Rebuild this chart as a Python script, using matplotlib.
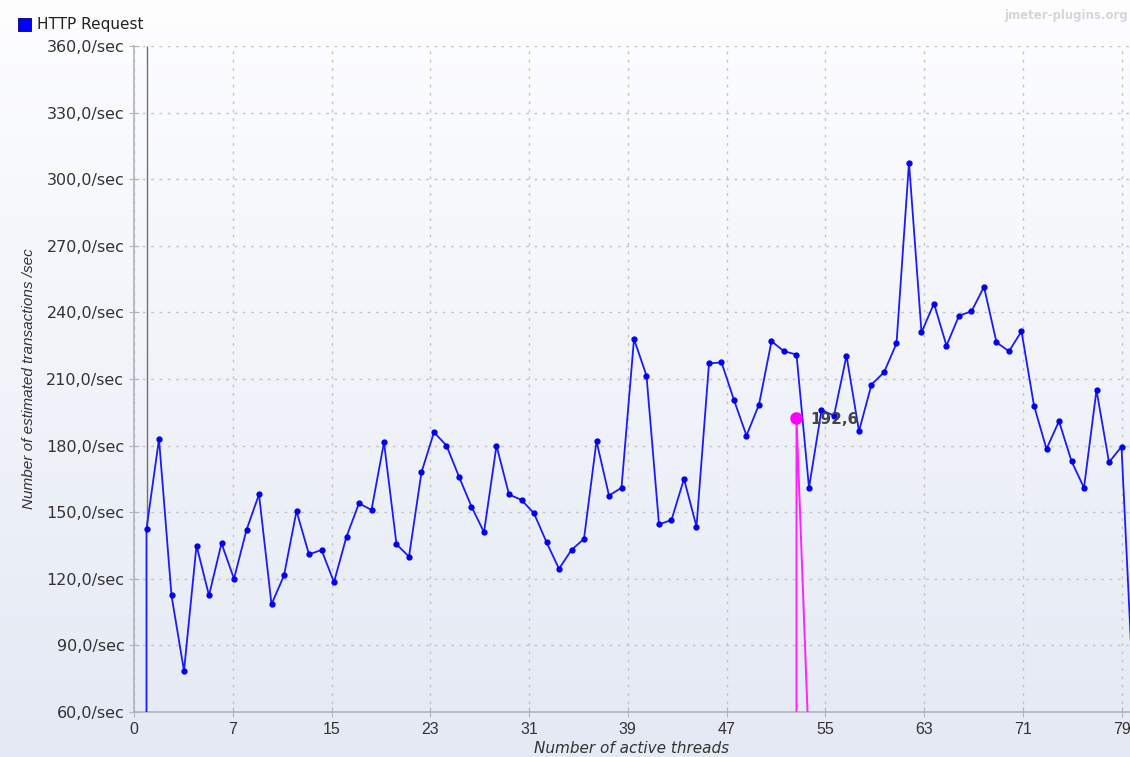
import numpy as np
import matplotlib.pyplot as plt
from matplotlib.patches import Rectangle

# Dữ liệu
threads = [1, 1, 2, 3, 4, 5, 6, 7, 8, 9, 10, 11, 12, 13, 14, 15, 16, 17, 18, 19, 20,
           21, 22, 23, 24, 25, 26, 27, 28, 29, 30, 31, 32, 33, 34, 35, 36, 37, 38, 39, 40,
           41, 42, 43, 44, 45, 46, 47, 48, 49, 50, 51, 52, 53, 54, 55, 56, 57, 58, 59, 60,
           61, 62, 63, 64, 65, 66, 67, 68, 69, 70, 71, 72, 73, 74, 75, 76, 77, 78, 79, 80]
tps = [20, 142.5, 183, 112.5, 78.5, 135, 112.5, 136, 120, 142, 158,
       108.5, 121.5, 150.5, 131, 133, 118.5, 139, 154, 151, 181.5,
       135.5, 130, 168, 186, 180, 166, 152.5, 141, 180, 158,
       155.5, 149.5, 136.5, 124.5, 133, 138, 182, 157.5, 161, 228,
       211.5, 144.5, 146.5, 165, 143.5, 217, 217.5, 200.5, 184.5, 198.5,
       227, 222.5, 221, 161, 196, 193.5, 220.5, 186.5, 207.5, 213,
       226, 307.5, 231, 244, 225, 238.5, 240.5, 251.5, 226.5, 222.5,
       231.5, 198, 178.5, 191, 173, 161, 205, 172.5, 179.5, 62]

# Đường đánh dấu màu hồng (con trỏ)
cursor_x = [53, 53, 54]
cursor_y = [10, 192.6, 42]
cursor_label = "192,6"

xtick_labels = ['0', '7', '15', '23', '31', '39', '47', '55', '63', '71', '79']
ytick_values = [60, 90, 120, 150, 180, 210, 240, 270, 300, 330, 360]
ytick_labels = [f"{v},0/sec" for v in ytick_values]

fig = plt.figure(figsize=(11.3, 7.57), dpi=100)

# Nền gradient cho toàn bộ hình
bg = fig.add_axes([0, 0, 1, 1], zorder=-10)
grad = np.linspace(0, 1, 256).reshape(-1, 1)
top = np.array([0.995, 0.995, 1.0])
bottom = np.array([0.894, 0.914, 0.957])
img = top + (bottom - top) * grad[:, :, None]
bg.imshow(img, aspect='auto', extent=[0, 1, 0, 1])
bg.set_axis_off()

ax = fig.add_axes([134 / 1130, 1 - 712 / 757, 996 / 1130, 666 / 757])
ax.set_facecolor('none')

grid_kw = dict(color='#c4c4c8', linewidth=1.0, linestyle=(0, (2, 4)))
xticks = np.linspace(0, 79, 11)
ax.set_xlim(0, 79.68)
ax.set_ylim(60, 360)
ax.set_xticks(xticks)
ax.set_xticklabels(xtick_labels)
ax.set_yticks(ytick_values)
ax.set_yticklabels(ytick_labels)
ax.grid(True, **grid_kw)
ax.set_axisbelow(True)

for side in ['top', 'right']:
    ax.spines[side].set_visible(False)
for side in ['left', 'bottom']:
    ax.spines[side].set_color('#b0b4bc')
    ax.spines[side].set_linewidth(1.2)

ax.tick_params(axis='both', direction='inout', length=7, color='#b0b4bc',
               labelcolor='#333333', labelsize=11)
for lab in ax.get_xticklabels():
    lab.set_family(['Liberation Sans Narrow', 'Liberation Sans', 'DejaVu Sans'])
    lab.set_fontsize(11.5)
for lab in ax.get_yticklabels():
    lab.set_family(['DejaVu Sans'])
    lab.set_fontsize(11.5)

# Đường dọc màu xám phía trên điểm đầu tiên
ax.vlines(threads[1], tps[1], 360, color='#707070', linewidth=1.0, zorder=3)

ax.plot(threads, tps, color='#1a1aff', linewidth=1.3, marker='o', markersize=3.5,
        markerfacecolor='#0000ee', markeredgecolor='#0000ee', zorder=4, clip_on=True)

ax.plot(cursor_x, cursor_y, color='#ff22ff', linewidth=1.4, marker='o', markevery=[1],
        markersize=8, markerfacecolor='#ff00ff', markeredgecolor='#ff00ff', zorder=5)
ax.annotate(cursor_label, (cursor_x[1], cursor_y[1]), xytext=(10, -1),
            textcoords='offset points', ha='left', va='center', fontsize=11,
            fontweight='bold', color='#444444', family=['DejaVu Sans'],
            zorder=6)

ax.set_xlabel("Number of active threads", fontsize=11, style='italic', color='#333333',
              family=['DejaVu Sans'], labelpad=3)
ax.set_ylabel("Number of estimated transactions /sec", fontsize=11, style='italic',
              color='#333333', family=['Liberation Sans', 'DejaVu Sans'], labelpad=7)

# Chú thích (legend) tự vẽ
fig.patches.append(Rectangle((18 / 1130, 1 - 31 / 757), 13 / 1130, 13 / 757,
                             transform=fig.transFigure, facecolor='#0000ff',
                             edgecolor='#000080', linewidth=0.6))
fig.text(37 / 1130, 1 - 25 / 757, "HTTP Request", fontsize=11, color='#222222',
         va='center', ha='left', family=['DejaVu Sans'])

# Watermark
fig.text(1128 / 1130, 1 - 15 / 757, "jmeter-plugins.org", fontsize=8.5, color='#d4d6dc',
         va='center', ha='right', fontweight='bold', family=['DejaVu Sans'])

fig.savefig('out.png', dpi=100)
